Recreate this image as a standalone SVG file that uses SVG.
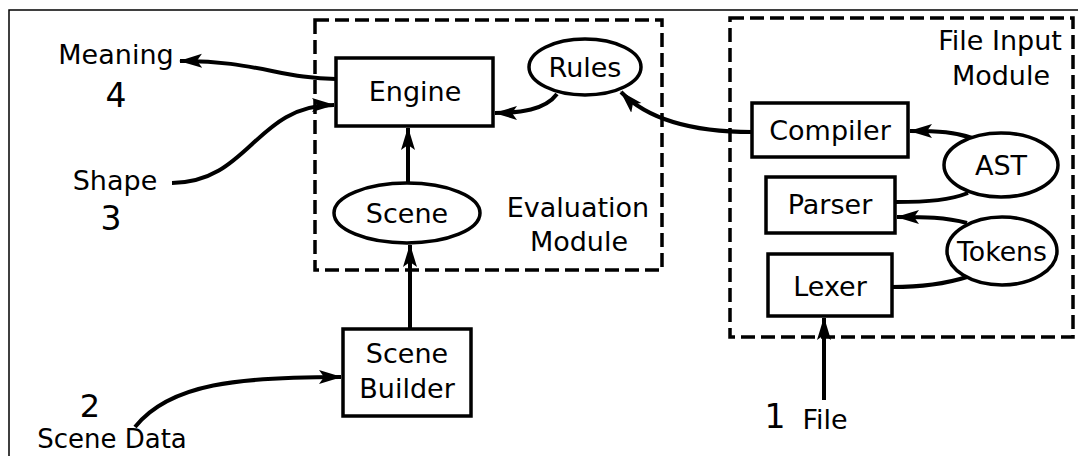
<svg xmlns="http://www.w3.org/2000/svg" width="1078" height="456" viewBox="0 0 1078 456">
<style>
text{font-family:"DejaVu Sans","Liberation Sans",sans-serif;font-size:27px;fill:#000;text-anchor:middle}
.num{font-size:33px}
.box{fill:#fff;stroke:#000;stroke-width:3.5}
.mod{fill:none;stroke:#000;stroke-width:3.5;stroke-dasharray:14 6}
.c{fill:none;stroke:#000;stroke-width:4}
.a{marker-end:url(#ah)}
</style>
<defs>
<marker id="ah" markerUnits="userSpaceOnUse" markerWidth="24" markerHeight="18" viewBox="0 0 24 18" refX="22" refY="9" orient="auto">
<path d="M0,2 L23,9 L0,16 L5,9 z" fill="#000"/>
</marker>
</defs>
<rect x="9" y="10" width="1085" height="460" fill="#fff" stroke="#000" stroke-width="1.5"/>
<g id="evaluation-module">
<rect class="mod" x="315" y="20" width="347" height="250"/>
<text x="578" y="217">Evaluation</text>
<text x="579" y="251">Module</text>
</g>
<g id="file-input-module">
<rect class="mod" x="730" y="18" width="343" height="319"/>
<text x="1000" y="50">File Input</text>
<text x="1001" y="85">Module</text>
</g>
<g id="connectors">
<path class="c a" d="M336,79 C285,79 250,60 180,61"/>
<path class="c a" d="M172,183 C250,182 255,105 334,105"/>
<path class="c a" d="M557,94 C545,110 520,113 495,113"/>
<path class="c a" d="M408,183 L408,128"/>
<path class="c a" d="M410,329 L410,245"/>
<path class="c a" d="M135,427 C170,383 240,377 341,377"/>
<path class="c a" d="M752,132 C700,132 650,122 621,92"/>
<path class="c a" d="M972,138 C955,132 940,131 910,131"/>
<path class="c" d="M968,193 C950,200 930,202 895,202"/>
<path class="c a" d="M967,223 C945,217 925,217 897,217"/>
<path class="c" d="M892,287 C920,287 945,284 967,277"/>
<path class="c a" d="M824,400 L824,318"/>
</g>
<g id="engine">
<rect class="box" x="336" y="58" width="157" height="68"/>
<text x="415" y="101">Engine</text>
</g>
<g id="rules">
<ellipse class="box" cx="585" cy="67" rx="56" ry="28"/>
<text x="585" y="77">Rules</text>
</g>
<g id="scene">
<ellipse class="box" cx="407" cy="213" rx="73" ry="30"/>
<text x="407" y="223">Scene</text>
</g>
<g id="scene-builder">
<rect class="box" x="343" y="329" width="128" height="87"/>
<text x="407" y="363">Scene</text>
<text x="407" y="398">Builder</text>
</g>
<g id="compiler">
<rect class="box" x="752" y="103" width="156" height="54"/>
<text x="830" y="140">Compiler</text>
</g>
<g id="ast">
<ellipse class="box" cx="1001" cy="165" rx="57" ry="32"/>
<text x="1001" y="175">AST</text>
</g>
<g id="parser">
<rect class="box" x="766" y="177" width="129" height="56"/>
<text x="830" y="214">Parser</text>
</g>
<g id="tokens">
<ellipse class="box" cx="1002" cy="251" rx="55" ry="34"/>
<text x="1002" y="261" textLength="90" lengthAdjust="spacingAndGlyphs">Tokens</text>
</g>
<g id="lexer">
<rect class="box" x="768" y="254" width="124" height="62"/>
<text x="830" y="296">Lexer</text>
</g>
<g id="labels">
<text x="116" y="64">Meaning</text>
<text class="num" x="116" y="107">4</text>
<text x="115" y="190">Shape</text>
<text class="num" x="111" y="230">3</text>
<text class="num" x="90" y="417" style="font-size:32px">2</text>
<text x="112" y="448" style="font-size:26px">Scene Data</text>
<text class="num" x="775" y="428">1</text>
<text x="825" y="429">File</text>
</g>
</svg>
